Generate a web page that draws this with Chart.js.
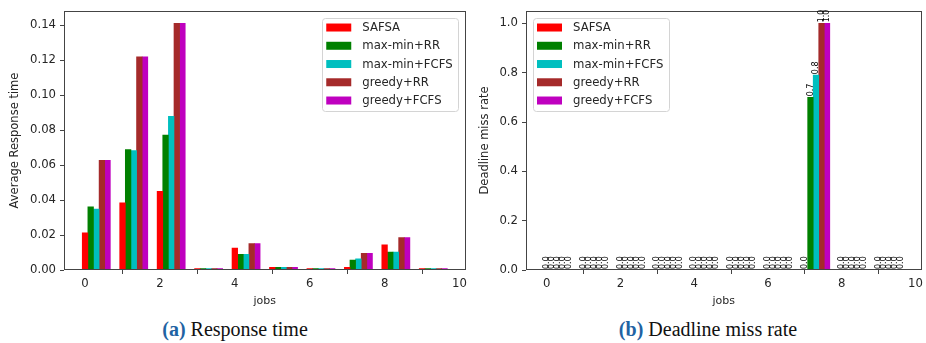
<!DOCTYPE html>
<html>
<head>
<meta charset="utf-8">
<script src="https://cdn.jsdelivr.net/npm/chart.js@4.4.0/dist/chart.umd.min.js"></script>
<style>
    body { margin: 0; background: #fff; width: 926px; height: 343px; position: relative; overflow: hidden; }
    canvas { position: absolute; top: 0; }
    #respChart { left: 0; }
    #missChart { left: 470px; }
    .cap {
        position: absolute; top: 319px; line-height: 20px;
        font-family: "Liberation Serif", "Times New Roman", serif; font-size: 20px;
        color: #111; white-space: nowrap; transform: translateX(-50%);
    }
    .cap b { color: #1f63a3; }
</style>
</head>
<body>
<canvas id="respChart" width="470" height="312"></canvas>
<canvas id="missChart" width="456" height="312"></canvas>
<div class="cap" style="left:235px"><b>(a)</b> Response time</div>
<div class="cap" style="left:708px"><b>(b)</b> Deadline miss rate</div>

<script>
const JOBS = [0, 1, 2, 3, 4, 5, 6, 7, 8, 9];
const SERIES = ['SAFSA', 'max-min+RR', 'max-min+FCFS', 'greedy+RR', 'greedy+FCFS'];
const COLORS = ['#ff0000', '#008000', '#00bfbf', '#a52a2a', '#bf00bf'];
const BAR_W = 0.15;

// average response time per job
const safsaResp      = [0.0212, 0.0384, 0.0450, 0.0008, 0.0125, 0.0015, 0.0008, 0.0015, 0.0144, 0.0008];
const maxminRrResp   = [0.0361, 0.0688, 0.0771, 0.0008, 0.0089, 0.0015, 0.0008, 0.0057, 0.0102, 0.0008];
const maxminFcfsResp = [0.0348, 0.0682, 0.0878, 0.0008, 0.0089, 0.0015, 0.0008, 0.0064, 0.0102, 0.0008];
const greedyRrResp   = [0.0627, 0.1219, 0.1410, 0.0008, 0.0151, 0.0015, 0.0008, 0.0096, 0.0185, 0.0008];
const greedyFcfsResp = [0.0627, 0.1219, 0.1410, 0.0008, 0.0151, 0.0015, 0.0008, 0.0096, 0.0185, 0.0008];

// deadline miss rate per job
const safsaMiss      = [0, 0, 0, 0, 0, 0, 0, 0,    0, 0];
const maxminRrMiss   = [0, 0, 0, 0, 0, 0, 0, 0.70, 0, 0];
const maxminFcfsMiss = [0, 0, 0, 0, 0, 0, 0, 0.79, 0, 0];
const greedyRrMiss   = [0, 0, 0, 0, 0, 0, 0, 1.00, 0, 0];
const greedyFcfsMiss = [0, 0, 0, 0, 0, 0, 0, 1.00, 0, 0];

const X_TICKS = [0, 2, 4, 6, 8, 10];
const RESP_TICKS = [0, 0.02, 0.04, 0.06, 0.08, 0.10, 0.12, 0.14];
const MISS_TICKS = [0, 0.2, 0.4, 0.6, 0.8, 1.0];

const TXT = '#262626';
const AXIS = '#444';
Chart.defaults.font.family = '"DejaVu Sans", sans-serif';
Chart.defaults.color = TXT;

function makeDatasets(seriesValues) {
    return seriesValues.map((vals, k) => ({
        label: SERIES[k],
        data: JOBS.map((j, i) => ({ x: j + k * BAR_W, y: vals[i] })),
        backgroundColor: COLORS[k],
        borderWidth: 0,
        grouped: false,
        barPercentage: 1,
        categoryPercentage: 1
    }));
}

// matplotlib style box round the plot area
const framePlugin = {
    id: 'frame',
    afterDatasetsDraw(chart) {
        const a = chart.chartArea;
        const ctx = chart.ctx;
        ctx.save();
        ctx.strokeStyle = AXIS;
        ctx.lineWidth = 1;
        ctx.strokeRect(Math.round(a.left) + 0.5, Math.round(a.top) + 0.5,
            Math.round(a.right - a.left) - 1, Math.round(a.bottom - a.top) - 1);
        ctx.restore();
    }
};

// legend drawn inside the plot
const boxLegend = {
    id: 'boxLegend',
    afterDraw(chart, args, opts) {
        const ctx = chart.ctx;
        const a = chart.chartArea;
        const ds = chart.data.datasets;
        ctx.save();
        ctx.font = '11.7px "DejaVu Sans", sans-serif';
        let maxW = 0;
        ds.forEach(d => { maxW = Math.max(maxW, ctx.measureText(d.label).width); });
        const w = 4 + 25 + 11 + maxW + 6;
        const rowH = 18.25;
        const h = ds.length * rowH + 2;
        const x = opts.side === 'right' ? a.right - 7 - w : a.left + 7;
        const y = a.top + 7;
        ctx.beginPath();
        ctx.roundRect(Math.round(x) + 0.5, Math.round(y) + 0.5, Math.round(w), Math.round(h), 3);
        ctx.fillStyle = 'rgba(255,255,255,0.85)';
        ctx.fill();
        ctx.strokeStyle = '#d4d4d4';
        ctx.stroke();
        ctx.textBaseline = 'middle';
        ds.forEach((d, i) => {
            const cy = y + 9.5 + i * rowH;
            ctx.fillStyle = d.backgroundColor;
            ctx.fillRect(x + 4, cy - 4, 25, 8);
            ctx.fillStyle = TXT;
            ctx.fillText(d.label, x + 4 + 25 + 11, cy + 0.5);
        });
        ctx.restore();
    }
};

// rotated value labels above bars
const valueLabels = {
    id: 'valueLabels',
    afterDatasetsDraw(chart) {
        const ctx = chart.ctx;
        ctx.save();
        ctx.font = '8px "DejaVu Sans", sans-serif';
        ctx.fillStyle = '#000';
        ctx.textAlign = 'left';
        ctx.textBaseline = 'middle';
        chart.data.datasets.forEach((d, k) => {
            chart.getDatasetMeta(k).data.forEach((el, i) => {
                ctx.save();
                ctx.translate(el.x, el.y - 1);
                ctx.rotate(-Math.PI / 2);
                ctx.fillText(d.data[i].y.toFixed(1), 0, 0);
                ctx.restore();
            });
        });
        ctx.restore();
    }
};

function xRange() {
    const lo = JOBS[0] - BAR_W / 2;
    const hi = JOBS[JOBS.length - 1] + (SERIES.length - 1) * BAR_W + BAR_W / 2;
    const pad = (hi - lo) * 0.05;
    return [lo - pad, hi + pad];
}

function buildChart(canvasId, seriesValues, yTicks, yTitle, decimals, yAxisW, rightPad, legendSide, extra) {
    const [xmin, xmax] = xRange();
    const ymax = Math.max(...seriesValues.flat()) * 1.05;
    return new Chart(document.getElementById(canvasId), {
        type: 'bar',
        data: { datasets: makeDatasets(seriesValues) },
        options: {
            responsive: false,
            animation: false,
            devicePixelRatio: 1,
            layout: { padding: { left: 0, right: rightPad, top: 8, bottom: 0 } },
            plugins: {
                legend: { display: false },
                tooltip: { enabled: false },
                boxLegend: { side: legendSide }
            },
            scales: {
                x: {
                    type: 'linear',
                    min: xmin,
                    max: xmax,
                    offset: false,
                    afterBuildTicks: s => { s.ticks = X_TICKS.map(v => ({ value: v })); },
                    afterFit: s => { s.height = 42; },
                    grid: { display: true, drawOnChartArea: false, drawTicks: true, tickLength: 4, color: AXIS },
                    border: { display: false },
                    ticks: { font: { size: 11.7 }, color: TXT, padding: 3, maxRotation: 0,
                        callback: v => String(v) },
                    title: { display: true, text: 'jobs', font: { size: 11 }, color: TXT,
                        padding: { top: 0, bottom: 4 } }
                },
                y: {
                    min: 0,
                    max: ymax,
                    afterBuildTicks: s => { s.ticks = yTicks.map(v => ({ value: v })); },
                    afterFit: s => { s.width = yAxisW; },
                    grid: { display: true, drawOnChartArea: false, drawTicks: true, tickLength: 4, color: AXIS },
                    border: { display: false },
                    ticks: { font: { size: 11.7 }, color: TXT, padding: 4,
                        callback: v => v.toFixed(decimals) },
                    title: { display: true, text: yTitle, font: { size: 11.5 }, color: TXT,
                        padding: { top: 8, bottom: 0 } }
                }
            }
        },
        plugins: [framePlugin, boxLegend].concat(extra)
    });
}

buildChart('respChart',
    [safsaResp, maxminRrResp, maxminFcfsResp, greedyRrResp, greedyFcfsResp],
    RESP_TICKS, 'Average Response time', 2, 64, 4, 'right', []);

buildChart('missChart',
    [safsaMiss, maxminRrMiss, maxminFcfsMiss, greedyRrMiss, greedyFcfsMiss],
    MISS_TICKS, 'Deadline miss rate', 1, 56, 1, 'left', [valueLabels]);
</script>
</body>
</html>
